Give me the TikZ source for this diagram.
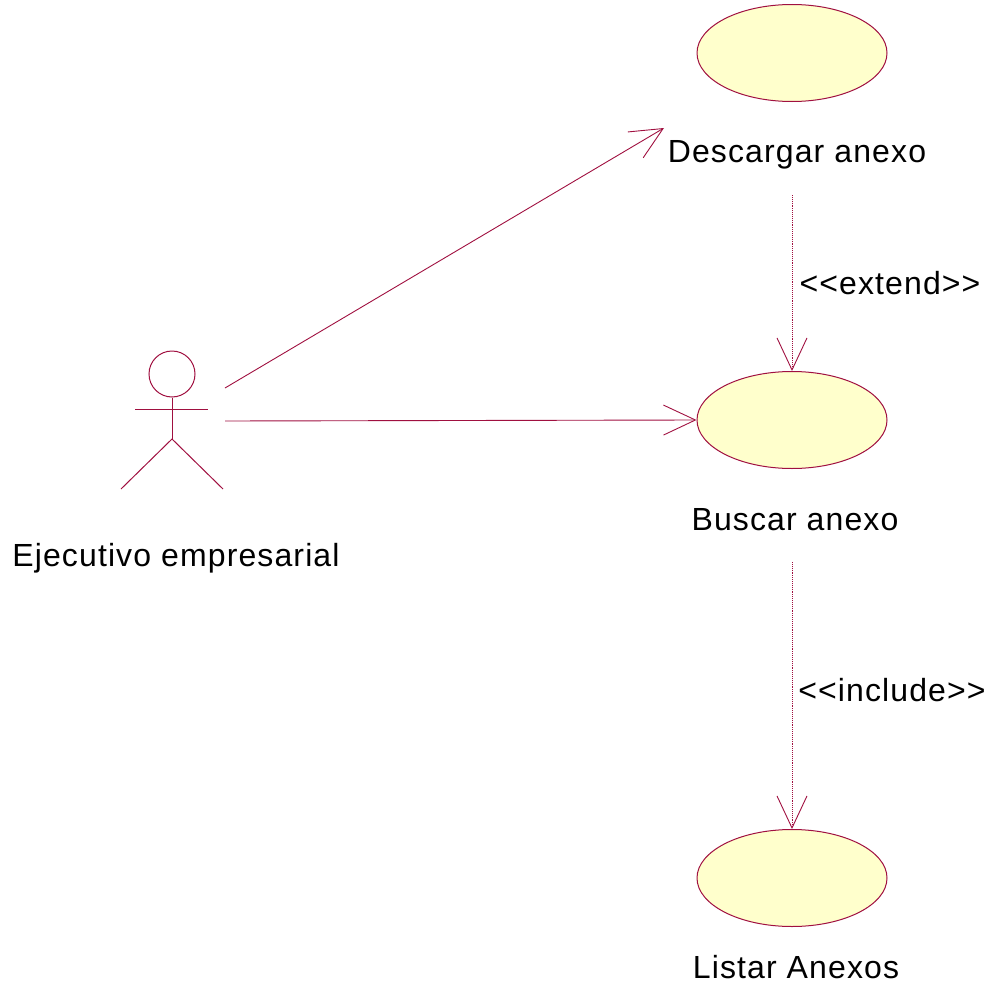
\documentclass[tikz,border=0pt]{standalone}
\usepackage{fontspec}
\setmainfont{Liberation Sans}[Ligatures=TeXOff,LetterSpace=3.5]
\usetikzlibrary{shapes.geometric,arrows.meta}
\definecolor{umlline}{RGB}{160,16,64}
\definecolor{umlfill}{RGB}{255,255,204}
\tikzset{
  usecase/.style={ellipse,draw=umlline,fill=umlfill,line width=1pt,minimum width=190pt,minimum height=97pt,inner sep=0pt},
  lbl/.style={font=\fontsize{32}{36}\selectfont,inner sep=0pt},
  assoc/.style={draw=umlline,line width=0.9pt,-{Straight Barb[length=32pt,width=30pt,line width=0.9pt]}},
  dep/.style={assoc,densely dotted,-{Straight Barb[length=32pt,width=30pt,line width=0.9pt,sep=0pt]}},
  actorline/.style={draw=umlline,line width=1pt}
}
\begin{document}
\begin{tikzpicture}[x=1pt,y=-1pt]
\useasboundingbox (0,0) rectangle (989,985);
% use cases
\node[usecase] (uc1) at (792,53) {};
\node[usecase] (uc2) at (792,420) {};
\node[usecase] (uc3) at (792,878) {};
\node[lbl] (l1) at (797,155) {Descargar anexo};
\node[lbl] (l2) at (795,520) {Buscar anexo};
\node[lbl] (l3) at (796,967) {Listar Anexos};
% actor
\node[circle,draw=umlline,line width=1pt,minimum size=46pt,inner sep=0pt] (head) at (172,374) {};
\coordinate (armL) at (135,409);
\coordinate (armR) at (208,409);
\coordinate (hip) at (172,439);
\coordinate (legL) at (121,489);
\coordinate (legR) at (223,489);
\draw[actorline] (head.south) -- (hip);
\draw[actorline] (armL) -- (armR);
\draw[actorline] (legL) -- (hip) -- (legR);
\node[lbl] (actor) at (176,558) {Ejecutivo empresarial};
% connector ends
\coordinate (a1s) at (225,388);
\coordinate (a1e) at (664,128);
\coordinate (a2s) at (225,421);
\coordinate (d1s) at (792,195);
\coordinate (d2s) at (792,562);
\draw[assoc] (a1s) -- (a1e);
\draw[assoc] (a2s) -- (uc2.west);
\draw[dep] (d1s) -- (uc2.north);
\draw[dep] (d2s) -- (uc3.north);
\node[lbl] (ext) at (890,283) {<<extend>>};
\node[lbl] (inc) at (892,690) {<<include>>};
\end{tikzpicture}
\end{document}
